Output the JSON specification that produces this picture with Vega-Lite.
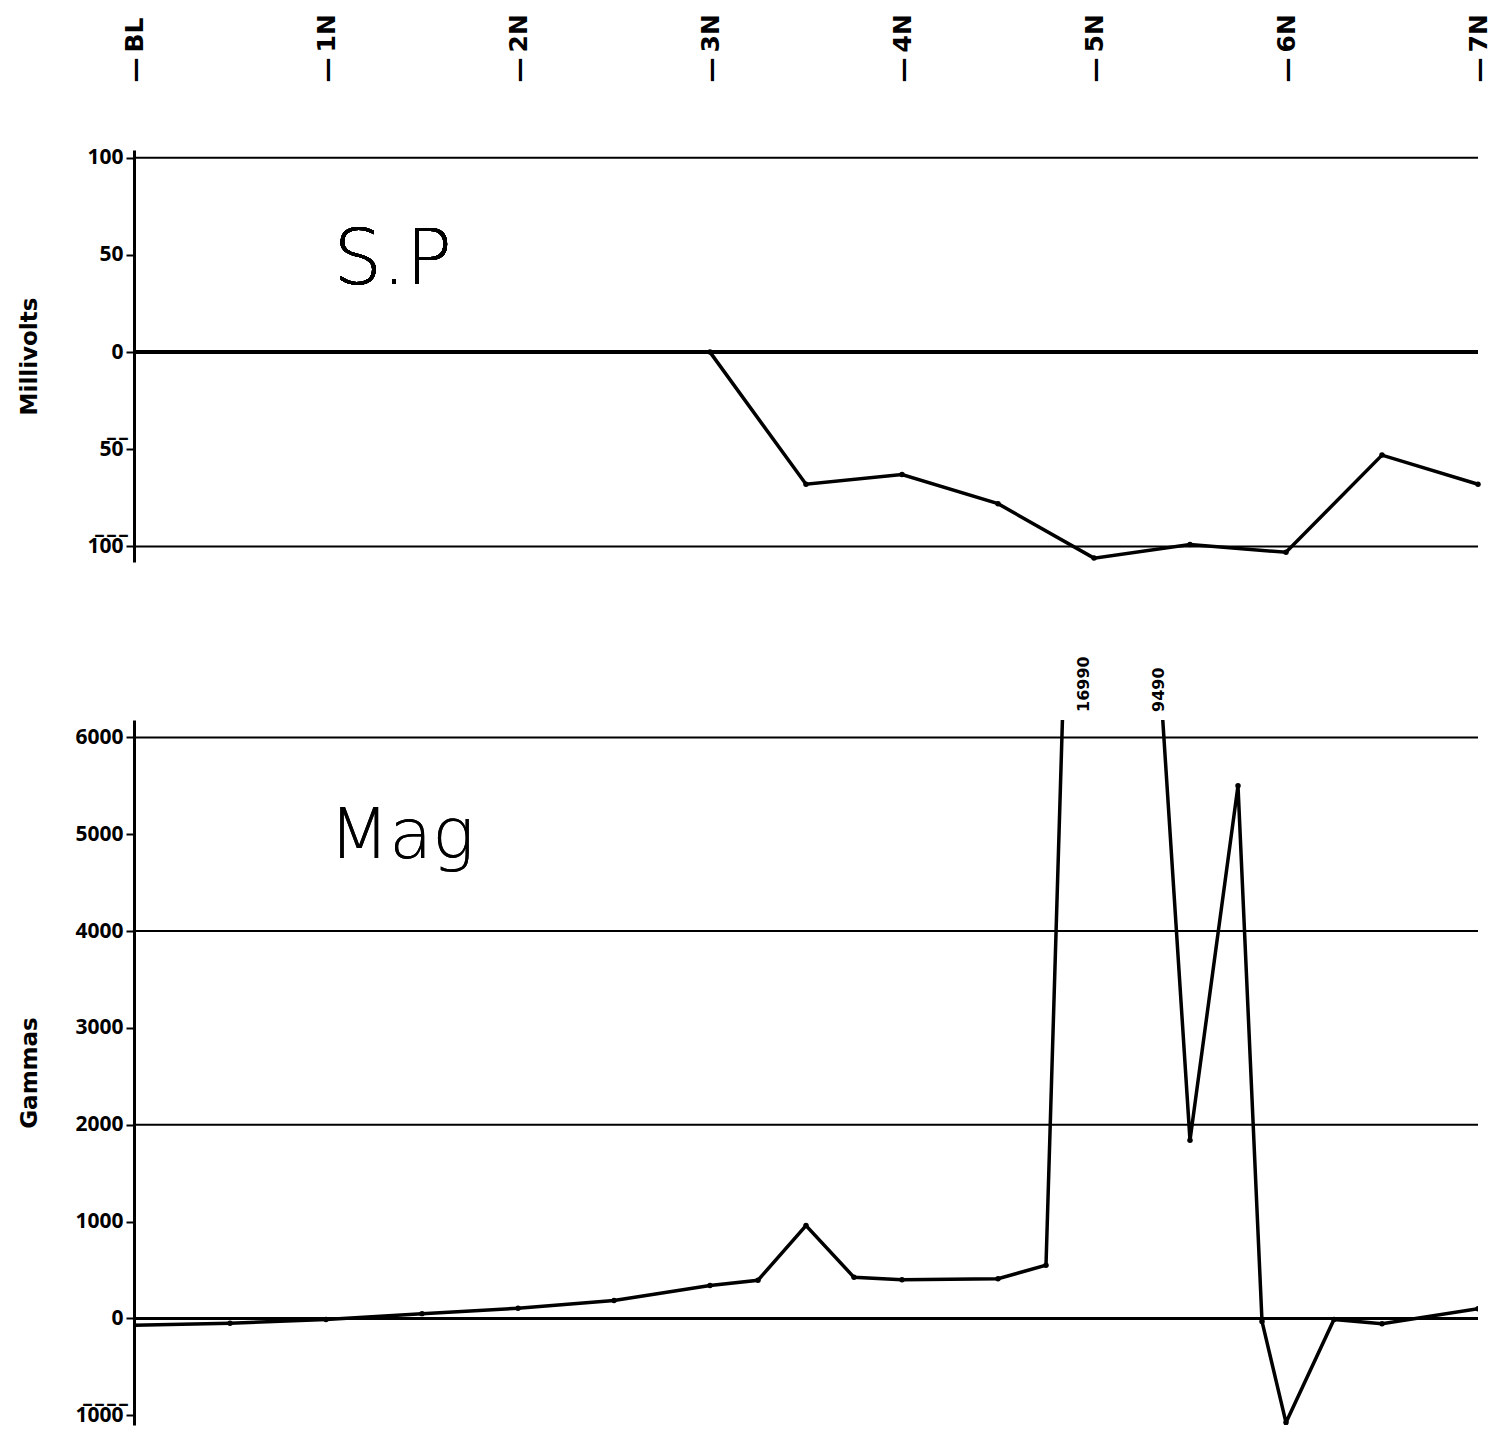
{
  "$schema": "https://vega.github.io/schema/vega-lite/v6.json",
  "background": "white",
  "padding": {"left": 18, "top": 13, "right": 5, "bottom": 5},
  "config": {
    "view": {"stroke": null},
    "axis": {"labelColor": "black", "titleColor": "black", "domainColor": "black", "tickColor": "black"}
  },
  "datasets": {
    "sp": [
      {"station": 3, "mv": 0},
      {"station": 3.5, "mv": -68},
      {"station": 4, "mv": -63},
      {"station": 4.5, "mv": -78},
      {"station": 5, "mv": -106},
      {"station": 5.5, "mv": -99},
      {"station": 6, "mv": -103},
      {"station": 6.5, "mv": -53},
      {"station": 7, "mv": -68}
    ],
    "mag": [
      {"station": 0, "gammas": -70},
      {"station": 0.5, "gammas": -50},
      {"station": 1, "gammas": -10},
      {"station": 1.5, "gammas": 50},
      {"station": 2, "gammas": 105},
      {"station": 2.5, "gammas": 185},
      {"station": 3, "gammas": 340},
      {"station": 3.25, "gammas": 395},
      {"station": 3.5, "gammas": 960},
      {"station": 3.75, "gammas": 425},
      {"station": 4, "gammas": 400},
      {"station": 4.5, "gammas": 410},
      {"station": 4.75, "gammas": 550},
      {"station": 5, "gammas": 16990},
      {"station": 5.25, "gammas": 9490},
      {"station": 5.5, "gammas": 1840},
      {"station": 5.75, "gammas": 5500},
      {"station": 5.875, "gammas": -30},
      {"station": 6, "gammas": -1075},
      {"station": 6.25, "gammas": -10},
      {"station": 6.5, "gammas": -55},
      {"station": 7, "gammas": 100}
    ],
    "offscale": [
      {"station": 4.95, "label": "16990"},
      {"station": 5.34, "label": "9490"}
    ],
    "spgrid": [{"level": 100}, {"level": -100}],
    "maggrid": [{"level": 6000}, {"level": 4000}, {"level": 2000}]
  },
  "vconcat": [
    {
      "width": 1344,
      "height": 412,
      "layer": [
        {
          "data": {"name": "spgrid"},
          "mark": {"type": "rule", "color": "black", "strokeWidth": 2},
          "encoding": {
            "y": {"field": "level", "type": "quantitative", "scale": {"domain": [-108, 104], "nice": false, "zero": false}}
          }
        },
        {
          "data": {"name": "sp"},
          "mark": {"type": "rule", "color": "black", "strokeWidth": 3},
          "encoding": {"y": {"datum": 0, "type": "quantitative"}}
        },
        {
          "data": {"name": "sp"},
          "mark": {"type": "line", "color": "black", "strokeWidth": 3.5},
          "encoding": {
            "x": {
              "field": "station", "type": "quantitative",
              "scale": {"domain": [0, 7], "nice": false, "zero": false},
              "axis": {
                "orient": "top", "values": [0, 1, 2, 3, 4, 5, 6, 7],
                "labelExpr": "datum.value == 0 ? '—\u2009BL' : '—\u2009' + datum.value + 'N'",
                "labelAngle": -90, "labelAlign": "left", "labelBaseline": "middle",
                "labelFont": "DejaVu Sans", "labelFontSize": 25, "labelFontWeight": "bold",
                "labelPadding": 68, "ticks": false, "domain": false, "grid": false, "title": null
              }
            },
            "y": {
              "field": "mv", "type": "quantitative",
              "axis": {
                "values": [100, 50, 0, -50, -100],
                "labelExpr": "datum.value == -50 ? '5\u03050\u0305' : datum.value == -100 ? '1\u03050\u03050\u0305' : datum.label",
                "labelFont": "Noto Sans", "labelFontSize": 21, "labelFontWeight": "bold",
                "labelPadding": 3, "tickSize": 8, "tickWidth": 2, "domainWidth": 3, "grid": false,
                "title": "Millivolts", "titleFont": "DejaVu Sans", "titleFontSize": 23, "titleFontWeight": "bold",
                "titleX": -93
              }
            }
          }
        },
        {
          "data": {"name": "sp"},
          "mark": {"type": "point", "filled": true, "color": "black", "size": 30, "opacity": 1},
          "encoding": {
            "x": {"field": "station", "type": "quantitative"},
            "y": {"field": "mv", "type": "quantitative"}
          }
        },
        {
          "data": {"name": "sp"},
          "mark": {"type": "text", "text": "S.P", "font": "DejaVu Sans", "fontWeight": 200, "fontSize": 76, "align": "left", "baseline": "alphabetic", "color": "black"},
          "encoding": {
            "x": {"datum": 1.04, "type": "quantitative"},
            "y": {"datum": 35, "type": "quantitative"}
          }
        }
      ]
    },
    {
      "width": 1344,
      "height": 705,
      "layer": [
        {
          "data": {"name": "maggrid"},
          "mark": {"type": "rule", "color": "black", "strokeWidth": 2},
          "encoding": {
            "y": {"field": "level", "type": "quantitative", "scale": {"domain": [-1100, 6180], "nice": false, "zero": false}}
          }
        },
        {
          "data": {"name": "mag"},
          "mark": {"type": "rule", "color": "black", "strokeWidth": 3},
          "encoding": {"y": {"datum": 0, "type": "quantitative"}}
        },
        {
          "data": {"name": "mag"},
          "mark": {"type": "line", "color": "black", "strokeWidth": 3.5, "clip": true},
          "encoding": {
            "x": {"field": "station", "type": "quantitative", "scale": {"domain": [0, 7], "nice": false, "zero": false}, "axis": null},
            "y": {
              "field": "gammas", "type": "quantitative",
              "axis": {
                "values": [6000, 5000, 4000, 3000, 2000, 1000, 0, -1000],
                "format": "d",
                "labelExpr": "datum.value == -1000 ? '1\u03050\u03050\u03050\u0305' : datum.label",
                "labelFont": "Noto Sans", "labelFontSize": 21, "labelFontWeight": "bold",
                "labelPadding": 3, "tickSize": 8, "tickWidth": 2, "domainWidth": 3, "grid": false,
                "title": "Gammas", "titleFont": "DejaVu Sans", "titleFontSize": 23, "titleFontWeight": "bold",
                "titleX": -93
              }
            }
          }
        },
        {
          "data": {"name": "mag"},
          "mark": {"type": "point", "filled": true, "color": "black", "size": 30, "opacity": 1, "clip": true},
          "encoding": {
            "x": {"field": "station", "type": "quantitative"},
            "y": {"field": "gammas", "type": "quantitative"}
          }
        },
        {
          "data": {"name": "offscale"},
          "mark": {"type": "text", "font": "DejaVu Sans", "fontWeight": "bold", "fontSize": 16, "angle": 270, "align": "left", "baseline": "middle", "dx": 8, "color": "black"},
          "encoding": {
            "x": {"field": "station", "type": "quantitative"},
            "y": {"datum": 6180, "type": "quantitative"},
            "text": {"field": "label"}
          }
        },
        {
          "data": {"name": "offscale"},
          "mark": {"type": "text", "text": "Mag", "font": "DejaVu Sans", "fontWeight": 200, "fontSize": 70, "align": "left", "baseline": "alphabetic", "color": "black"},
          "encoding": {
            "x": {"datum": 1.015, "type": "quantitative"},
            "y": {"datum": 4752, "type": "quantitative"}
          }
        }
      ]
    }
  ],
  "spacing": 158,
  "bounds": "flush"
}
